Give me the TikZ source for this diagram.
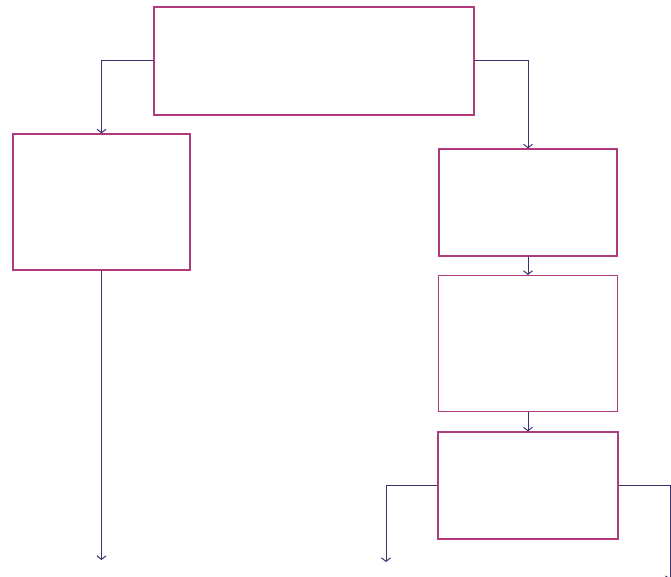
\documentclass[tikz,border=0pt]{standalone}
\usepackage{tikz}
\usetikzlibrary{arrows.meta, positioning}

\definecolor{boxpink}{HTML}{B03A7C}
\definecolor{linepurple}{HTML}{3E2F6E}

\begin{document}
\begin{tikzpicture}[x=1pt, y=-1pt, >={Straight Barb[length=3.5pt, width=9pt]},
    flowbox/.style={draw=boxpink, line width=1.2pt, fill=white, inner sep=0pt},
    flowline/.style={->, draw=linepurple, line width=1pt}]
  \useasboundingbox (0,0) rectangle (671,577);

  % Top box
  \node[flowbox, minimum width=320pt, minimum height=108pt] (top) at (314, 61) {};

  % Left box
  \node[flowbox, minimum width=177pt, minimum height=136pt] (left) at (101.5, 202) {};

  % Right column
  \node[flowbox, minimum width=178pt, minimum height=107pt] (rone) at (528, 202.5) {};
  \node[flowbox, minimum width=179pt, minimum height=136pt] (rtwo) at (528, 343.5) {};
  \node[flowbox, minimum width=180pt, minimum height=107pt] (rthree) at (528, 485.5) {};

  % Free ends
  \coordinate (leftend) at (101.5, 560);
  \coordinate (branchl) at (386, 562);
  \coordinate (branchr) at (670, 580);

  % Connectors
  \draw[flowline] (top.west) -| (left.north);
  \draw[flowline] (top.east) -| (rone.north);
  \draw[flowline] (rone.south) -- (rtwo.north);
  \draw[flowline] (rtwo.south) -- (rthree.north);
  \draw[flowline] (left.south) -- (leftend);
  \draw[flowline] (rthree.west) -| (branchl);
  \draw[flowline] (rthree.east) -| (branchr);
\end{tikzpicture}
\end{document}
